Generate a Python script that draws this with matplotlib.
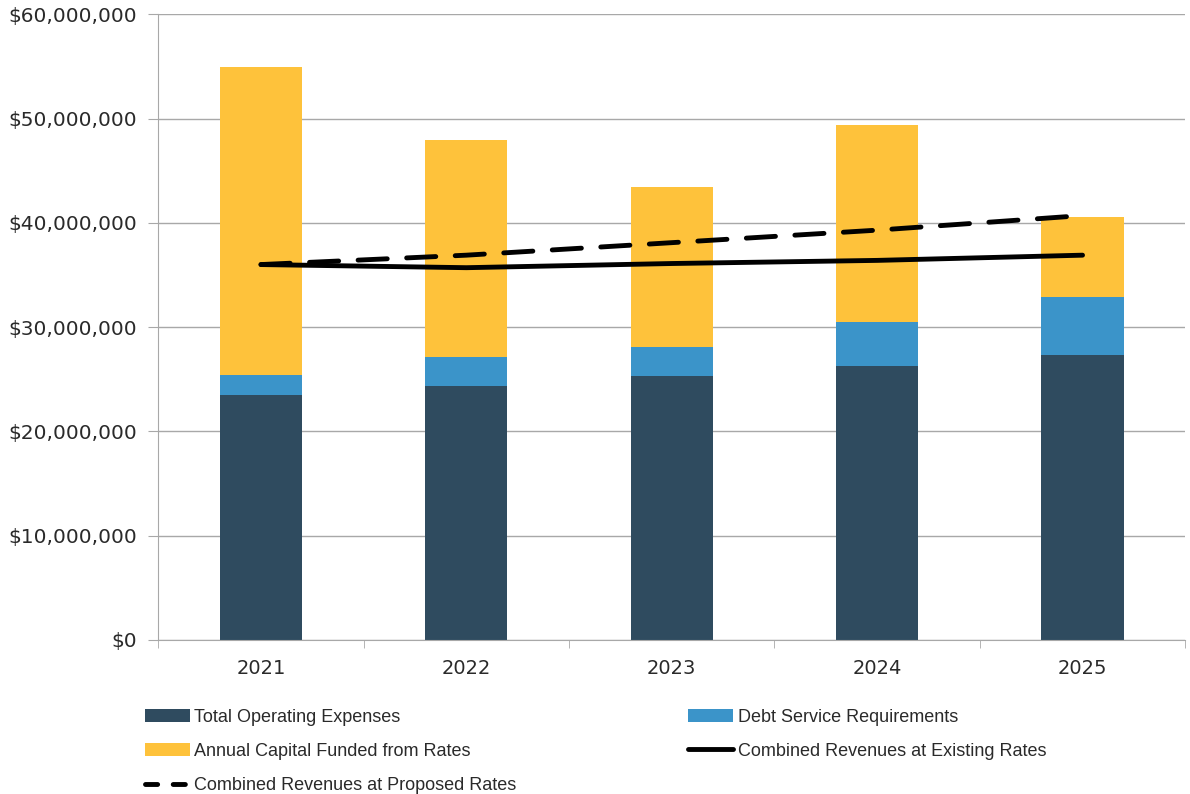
import matplotlib.pyplot as plt
import numpy as np
from matplotlib.ticker import FuncFormatter, FixedLocator
from matplotlib.lines import Line2D

years = ['2021', '2022', '2023', '2024', '2025']
operating = [23.5e6, 24.4e6, 25.3e6, 26.3e6, 27.3e6]
debt_service = [1.9e6, 2.7e6, 2.8e6, 4.2e6, 5.6e6]
capital = [29.5e6, 20.8e6, 15.3e6, 18.9e6, 7.7e6]
rev_existing = [36.0e6, 35.7e6, 36.1e6, 36.4e6, 36.9e6]
rev_proposed = [36.0e6, 36.9e6, 38.1e6, 39.3e6, 40.7e6]

c_dark = '#2f4b5f'
c_blue = '#3b94c9'
c_yellow = '#fec23b'

plt.rcParams['font.family'] = ['DejaVu Sans']

fig = plt.figure(figsize=(11.9, 7.94), dpi=100)
ax = fig.add_axes([0.133, 0.194, 0.863, 0.788])

x = np.arange(len(years))
w = 0.4
b1 = ax.bar(x, operating, w, color=c_dark, label='Total Operating Expenses', zorder=2)
bottom2 = np.array(operating)
b2 = ax.bar(x, debt_service, w, bottom=bottom2, color=c_blue,
            label='Debt Service Requirements', zorder=2)
bottom3 = bottom2 + np.array(debt_service)
b3 = ax.bar(x, capital, w, bottom=bottom3, color=c_yellow,
            label='Annual Capital Funded from Rates', zorder=2)

l1, = ax.plot(x, rev_existing, color='black', lw=3.5, solid_capstyle='round',
              label='Combined Revenues at Existing Rates', zorder=3)
ax.plot(x, rev_proposed, color='black', lw=3.5, ls=(0, (6, 4)),
        dash_capstyle='round', zorder=3)
# legend proxy with shorter dashes so two show in the key
l2 = Line2D([], [], color='black', lw=3.5, ls=(0, (2.5, 3.2)), dash_capstyle='round',
            label='Combined Revenues at Proposed Rates')

ax.set_xlim(-0.5, 4.5)
ax.set_ylim(0, 60e6)
ax.set_yticks(np.arange(0, 60e6 + 1, 10e6))
ax.yaxis.set_major_formatter(FuncFormatter(lambda v, p: '${:,.0f}'.format(v)))
ax.grid(axis='y', color='#a8a8a8', lw=1, zorder=0)
ax.set_xticks(x)
ax.set_xticklabels(years)
ax.xaxis.set_minor_locator(FixedLocator(np.arange(-0.5, 5, 1)))
ax.tick_params(axis='x', which='major', length=0, pad=14, labelsize=14, labelcolor='#2a2a2a')
ax.tick_params(axis='x', which='minor', length=6, color='#a8a8a8')
ax.tick_params(axis='y', length=7, color='#a8a8a8', pad=8, labelsize=14.5, labelcolor='#2a2a2a')
for s in ['top', 'right']:
    ax.spines[s].set_visible(False)
for s in ['left', 'bottom']:
    ax.spines[s].set_color('#a8a8a8')

handles = [b1, b3, l2, b2, l1]
labels = [h.get_label() for h in handles]
fig.legend(handles, labels, loc='upper left', bbox_to_anchor=(0.108, 0.128),
           ncol=2, frameon=False, handlelength=2.5, handleheight=0.7,
           columnspacing=9.5, labelspacing=0.95, handletextpad=0.25,
           prop={'family': ['Liberation Sans'], 'size': 13},
           labelcolor='#2a2a2a')

fig.savefig('out.png', dpi=100)
